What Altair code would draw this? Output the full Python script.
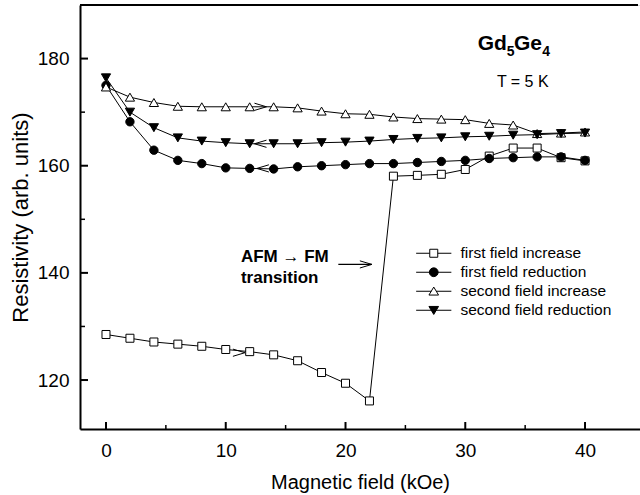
import altair as alt
import pandas as pd

# ---------------- data ----------------
field_koe = [0, 2, 4, 6, 8, 10, 12, 14, 16, 18, 20, 22, 24, 26, 28, 30, 32, 34, 36, 38, 40]

first_increase = [128.5, 127.8, 127.1, 126.7, 126.3, 125.7, 125.3, 124.7, 123.6, 121.4, 119.4, 116.1,
                  158.05, 158.2, 158.4, 159.3, 161.8, 163.3, 163.3, 161.5, 160.9]
first_reduction = [175.0, 168.2, 162.9, 161.0, 160.4, 159.6, 159.5, 159.4, 159.8, 160.0, 160.2, 160.4,
                   160.4, 160.6, 160.8, 161.0, 161.35, 161.5, 161.65, 161.65, 161.0]
second_increase = [174.7, 172.8, 171.8, 171.1, 171.0, 171.0, 171.0, 171.0, 170.8, 170.2, 169.7, 169.6,
                   169.1, 168.8, 168.7, 168.6, 167.9, 167.6, 166.0, 166.1, 166.3]
second_reduction = [176.4, 170.0, 167.1, 165.2, 164.6, 164.3, 164.1, 164.1, 164.1, 164.3, 164.4, 164.6,
                    164.9, 165.1, 165.2, 165.4, 165.5, 165.7, 165.8, 166.0, 166.1]

series_names = ["first field increase", "first field reduction",
                "second field increase", "second field reduction"]
series_values = [first_increase, first_reduction, second_increase, second_reduction]
series_fill = ["white", "black", "white", "black"]

x_major_ticks = [0, 10, 20, 30, 40]
x_minor_ticks = [5, 15, 25, 35]
y_major_ticks = [120, 140, 160, 180]
y_minor_ticks = [130, 150, 170]

# annotation texts (anchored in data coordinates)
formula_parts = ["Gd", "5", "Ge", "4"]
formula_x = [31.04, 33.46, 34.07, 36.42]
formula_y = [181.55, 180.43, 181.55, 180.43]
formula_size = [21, 14, 21, 14]

temp_label = ["T = 5 K"]
temp_x = [34.8]
temp_y = [175.6]

afm_lines = ["AFM \u2192 FM", "transition"]
afm_x = [11.27, 11.27]
afm_y = [143.0, 139.1]

# small direction arrows on the curves
right_arrow_x = [13.4, 11.6, 22.2]
right_arrow_y = [171.0, 125.1, 141.58]
left_arrow_x = [12.4, 12.6]
left_arrow_y = [164.1, 159.5]
# shaft of the AFM->FM pointer
pointer_x = [19.4]
pointer_x2 = [22.2]
pointer_y = [141.58]

# ---------------- chart ----------------
FONT = "Liberation Sans"
W, H = 560, 424
xscale = alt.Scale(domain=[-2.17, 44.59], nice=False, zero=False)
yscale = alt.Scale(domain=[110.86, 190], nice=False, zero=False)

rows = []
for name, vals in zip(series_names, series_values):
    for f, v in zip(field_koe, vals):
        rows.append({"field": f, "value": v, "series": name})
df = pd.DataFrame(rows)

x_axis = alt.Axis(values=x_major_ticks, ticks=False, grid=False,
                  domainColor="black", domainWidth=2,
                  labelFont=FONT, labelFontSize=19, labelColor="black", labelPadding=12,
                  labelFlush=False,
                  title="Magnetic field (kOe)", titleFont=FONT, titleFontSize=20,
                  titleFontWeight="normal", titleColor="black", titlePadding=12)
y_axis = alt.Axis(values=y_major_ticks, ticks=False, grid=False,
                  domainColor="black", domainWidth=2,
                  labelFont=FONT, labelFontSize=19, labelColor="black", labelPadding=11,
                  title="Resistivity (arb. units)", titleFont=FONT, titleFontSize=22,
                  titleFontWeight="normal", titleColor="black", titlePadding=5)


def X(f, **kw):
    return alt.X(f, type="quantitative", scale=xscale, axis=x_axis, **kw)


def Y(f, **kw):
    return alt.Y(f, type="quantitative", scale=yscale, axis=y_axis, **kw)


lines = alt.Chart(df).mark_line(color="black", strokeWidth=1).encode(
    x=X("field"), y=Y("value"),
    detail="series:N",
    order="field:Q",
)

marker_shape = ["square", "circle", "triangle-up", "triangle-down"]
marker_size = [64, 70, 85, 85]
point_layers = []
for name, shp, fil, sz in zip(series_names, marker_shape, series_fill, marker_size):
    point_layers.append(
        alt.Chart(df).transform_filter(alt.datum.series == name).mark_point(
            shape=shp, filled=True, fill=fil, stroke="black",
            strokeWidth=1, size=sz, opacity=1
        ).encode(x=X("field"), y=Y("value"))
    )

legend_paths = [
    "M-4.4,0H-1M1,0H4.4M-1,-1H1V1H-1Z",
    "M-4.4,0H4.4M-1.1,0A1.1,1.1,0,1,1,1.1,0A1.1,1.1,0,1,1,-1.1,0Z",
    "M-4.4,0H-0.6M0.6,0H4.4M0,-1.05L1.2,0.95H-1.2Z",
    "M-4.4,0H4.4M0,1.05L1.2,-0.95H-1.2Z",
]
leg = alt.Legend(title=None, orient="none", legendX=346, legendY=240.5,
                 labelFont=FONT, labelFontSize=15.5, labelColor="black", labelLimit=300,
                 symbolSize=64, symbolOpacity=1, symbolStrokeColor="black", symbolStrokeWidth=1,
                 labelOffset=19, rowPadding=2, padding=0)
legend_layer = alt.Chart(df).mark_point(opacity=0, filled=False, strokeWidth=1).encode(
    x=X("field"), y=Y("value"),
    shape=alt.Shape("series:N", scale=alt.Scale(domain=series_names, range=legend_paths), legend=leg),
    fill=alt.Fill("series:N", scale=alt.Scale(domain=series_names, range=series_fill), legend=leg),
    stroke=alt.Stroke("series:N", scale=alt.Scale(domain=series_names, range=["black"] * 4), legend=leg),
)

# inward ticks
xt_major = alt.Chart(pd.DataFrame({"t": x_major_ticks})).mark_rule(color="black", strokeWidth=2).encode(
    x=X("t"), y=alt.value(H), y2=alt.value(H - 7))
xt_minor = alt.Chart(pd.DataFrame({"t": x_minor_ticks})).mark_rule(color="black", strokeWidth=1.5).encode(
    x=X("t"), y=alt.value(H), y2=alt.value(H - 4))
yt_major = alt.Chart(pd.DataFrame({"t": y_major_ticks})).mark_rule(color="black", strokeWidth=2).encode(
    y=Y("t"), x=alt.value(0), x2=alt.value(8))
yt_minor = alt.Chart(pd.DataFrame({"t": y_minor_ticks})).mark_rule(color="black", strokeWidth=1.5).encode(
    y=Y("t"), x=alt.value(0), x2=alt.value(5))
top_border = alt.Chart(pd.DataFrame({"t": [0]})).mark_rule(color="black", strokeWidth=2).encode(
    y=alt.value(0), x=alt.value(0), x2=alt.value(W - 2))

# texts
formula = alt.Chart(pd.DataFrame({"t": formula_parts, "x": formula_x, "y": formula_y, "s": formula_size})).mark_text(
    font=FONT, fontWeight="bold", align="left", baseline="alphabetic", color="black").encode(
    x=X("x"), y=Y("y"), text="t:N", size=alt.Size("s:Q", scale=None))
temp = alt.Chart(pd.DataFrame({"t": temp_label, "x": temp_x, "y": temp_y})).mark_text(
    font=FONT, fontSize=16, align="center", baseline="middle", color="black").encode(
    x=X("x"), y=Y("y"), text="t:N")
afm = alt.Chart(pd.DataFrame({"t": afm_lines, "x": afm_x, "y": afm_y})).mark_text(
    font=FONT, fontSize=17, fontWeight="bold", align="left", baseline="middle", color="black").encode(
    x=X("x"), y=Y("y"), text="t:N")

# arrows
arrows_r = alt.Chart(pd.DataFrame({"x": right_arrow_x, "y": right_arrow_y})).mark_point(
    shape="M-2,-0.6L0,0L-2,0.6", filled=False, stroke="black", strokeWidth=1, size=144, opacity=1).encode(
    x=X("x"), y=Y("y"))
arrows_l = alt.Chart(pd.DataFrame({"x": left_arrow_x, "y": left_arrow_y})).mark_point(
    shape="M2,-0.6L0,0L2,0.6", filled=False, stroke="black", strokeWidth=1, size=144, opacity=1).encode(
    x=X("x"), y=Y("y"))
pointer = alt.Chart(pd.DataFrame({"x": pointer_x, "x2": pointer_x2, "y": pointer_y})).mark_rule(
    color="black", strokeWidth=1.2).encode(x=X("x"), x2="x2:Q", y=Y("y"))

chart = alt.layer(
    lines, *point_layers, legend_layer, xt_major, xt_minor, yt_major, yt_minor, top_border,
    formula, temp, afm, arrows_r, arrows_l, pointer
).properties(
    width=W, height=H,
    autosize=alt.AutoSizeParams(type="none"),
    padding={"left": 80, "top": 5, "right": 0, "bottom": 66},
).configure_view(stroke=None).configure(background="white")

chart.save("out.html", embed_options={"renderer": "svg", "actions": False})
